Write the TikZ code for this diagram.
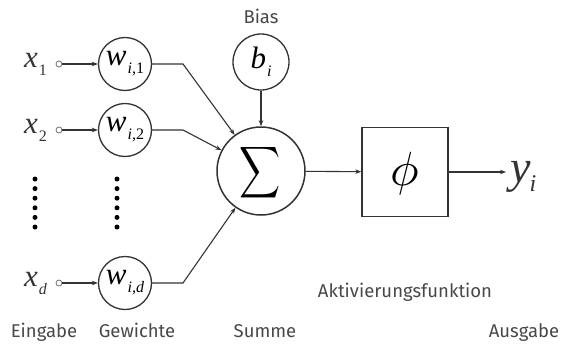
\documentclass[tikz,border=0pt]{standalone}
\usepackage{fontspec}
\setmainfont{Liberation Serif}
\newfontfamily\labfont{Fira Sans}
\usetikzlibrary{arrows.meta}
\definecolor{ln}{HTML}{333333}
\definecolor{lab}{HTML}{484848}
\newcommand\mysub[1]{\kern1pt\raisebox{-8pt}{\fontsize{16}{16}\selectfont #1}}
\tikzset{
  wcirc/.style={circle,draw=ln,line width=1.3pt,minimum size=53pt,inner sep=0pt,font=\fontsize{31}{31}\selectfont\itshape},
  incirc/.style={circle,draw=ln!70,line width=0.8pt,minimum size=6pt,inner sep=0pt,fill=white},
  xlab/.style={anchor=base west,inner sep=0pt,font=\fontsize{31}{31}\selectfont\itshape,text=ln},
  lbl/.style={anchor=base,inner sep=0pt,font=\labfont\fontsize{18.5}{18.5}\selectfont,text=lab},
  arr/.style={draw=ln,line width=1.1pt,-{Stealth[length=6pt,width=4.5pt]}},
  dotmark/.style={circle,fill=black,minimum size=5pt,inner sep=0pt}
}
\begin{document}
\begin{tikzpicture}[x=1pt,y=-1pt]
\useasboundingbox (0,0) rectangle (564,343);
% inputs
\node[xlab] (x1) at (24,67) {x\mysub{\upshape 1}};
\node[xlab] (x2) at (24,133) {x\mysub{\upshape 2}};
\node[xlab] (xd) at (24,286) {x\mysub{d}};
\node[incirc] (c1) at (59,64) {};
\node[incirc] (c2) at (59,130) {};
\node[incirc] (cd) at (59,283) {};
% weights
\node[wcirc] (w1) at (125,64) {w\mysub{i,\upshape 1}};
\node[wcirc] (w2) at (125,130) {w\mysub{i,\upshape 2}};
\node[wcirc] (wd) at (125,283) {w\mysub{i,d}};
% dots
\foreach \k in {0,...,5} {
  \node[dotmark] (da\k) at (35,179+9.6*\k) {};
  \node[dotmark] (db\k) at (117,179+9.6*\k) {};
}
% sum and bias
\node[circle,draw=ln,line width=1.5pt,minimum size=88pt,inner sep=0pt] (s) at (261,171) {};
\node (sig) at (260,172.5) {\scalebox{2.85}[3.6]{$\displaystyle\sum$}};
\node[wcirc,minimum size=56pt] (b) at (261,62) {b\mysub{i}};
% activation
\node[draw=ln,line width=1.5pt,minimum width=86pt,minimum height=89pt,inner sep=0pt] (phi) at (405,172) {};
\node (phisym) at (405,173) {\scalebox{4.8}{$\phi$}};
\node[anchor=base west,inner sep=0pt,font=\fontsize{46}{46}\selectfont\itshape,text=ln] (y) at (510,182) {y\kern-1pt\raisebox{-9pt}{\fontsize{24}{24}\selectfont i}};
\coordinate (yend) at (506,172);
% bends
\coordinate (k1) at (183,64);
\coordinate (k2) at (183,130);
\coordinate (kd) at (183,283);
% connectors
\draw[arr] (c1) -- (w1);
\draw[arr] (c2) -- (w2);
\draw[arr] (cd) -- (wd);
\draw[arr] (w1) -- (k1) -- (s);
\draw[arr] (w2) -- (k2) -- (s);
\draw[arr] (wd) -- (kd) -- (s);
\draw[arr] (b) -- (s);
\draw[arr] (s) -- (phi);
\draw[arr] (phi) -- (yend);
% labels
\node[lbl] (lbias) at (261,23) {Bias};
\node[lbl] (lakt) at (405,297) {Aktivierungsfunktion};
\node[lbl] (lein) at (44,337) {Eingabe};
\node[lbl] (lgew) at (137,337) {Gewichte};
\node[lbl] (lsum) at (265,337) {Summe};
\node[lbl] (laus) at (524,337) {Ausgabe};
\end{tikzpicture}
\end{document}
